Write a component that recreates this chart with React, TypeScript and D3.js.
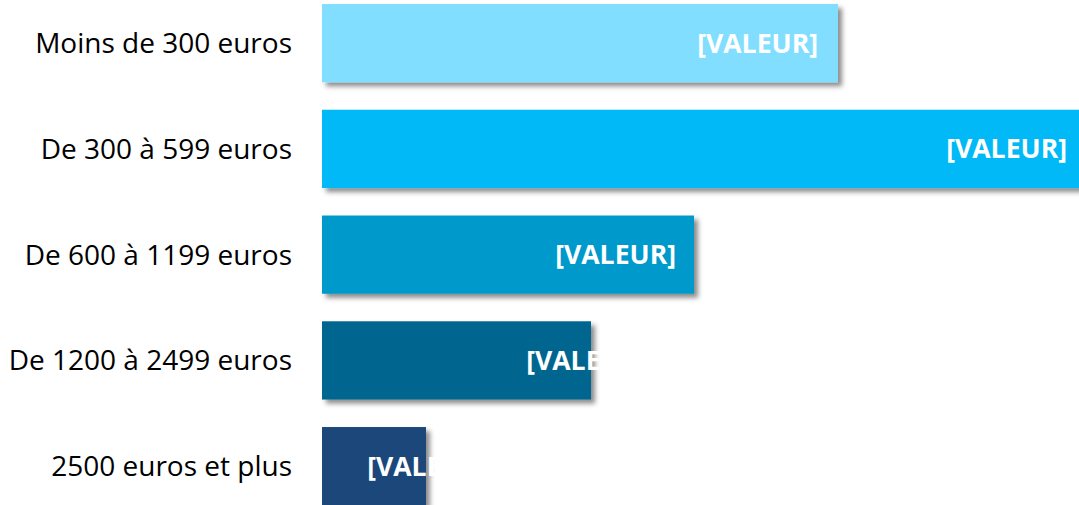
import React from "react";
import * as d3 from "d3";

const categories = [
  "Moins de 300 euros",
  "De 300 à 599 euros",
  "De 600 à 1199 euros",
  "De 1200 à 2499 euros",
  "2500 euros et plus",
];
const values = [25.8, 38.2, 18.6, 13.45, 5.2];
const valueLabels = ["[VALEUR]", "[VALEUR]", "[VALEUR]", "[VALEUR]", "[VALEUR]"];
const colors = ["#82DEFF", "#00B9F6", "#0099CC", "#00668F", "#1F477A"];

const W = 1079;
const H = 505;

export default function App() {
  const x = d3.scaleLinear().domain([0, 40]).range([322, 1122]);
  const y = d3
    .scaleBand<string>()
    .domain(categories)
    .range([4, 505.3])
    .paddingInner(0.26)
    .paddingOuter(0);
  // label end offsets relative to bar end (as placed in the original)
  const labelDx = [-20, -19, -18, 56, 62];

  return (
    <svg
      width={W}
      height={H}
      style={{ position: "absolute", left: 0, top: 0, background: "#fff" }}
    >
      <defs>
        <filter id="sh" x="-10%" y="-20%" width="130%" height="160%">
          <feDropShadow dx="4" dy="4" stdDeviation="2.5" floodColor="#000" floodOpacity="0.45" />
        </filter>
      </defs>
      {categories.map((c, i) => (
        <rect
          key={c}
          x={x(0)}
          y={y(c)}
          width={x(values[i]) - x(0)}
          height={y.bandwidth()}
          fill={colors[i]}
          filter="url(#sh)"
        />
      ))}
      {categories.map((c, i) => (
        <text
          key={"l" + c}
          x={292}
          y={(y(c) as number) + y.bandwidth() / 2}
          dy="0.36em"
          textAnchor="end"
          fontFamily="'Open Sans', sans-serif"
          fontSize={28}
          fill="#000"
        >
          {c}
        </text>
      ))}
      {categories.map((c, i) => (
        <text
          key={"v" + c}
          x={x(values[i]) + labelDx[i]}
          y={(y(c) as number) + y.bandwidth() / 2}
          dy="0.36em"
          textAnchor="end"
          fontFamily="'Open Sans', sans-serif"
          fontWeight="bold"
          fontSize={26.6}
          fill="#fff"
        >
          {valueLabels[i]}
        </text>
      ))}
    </svg>
  );
}
